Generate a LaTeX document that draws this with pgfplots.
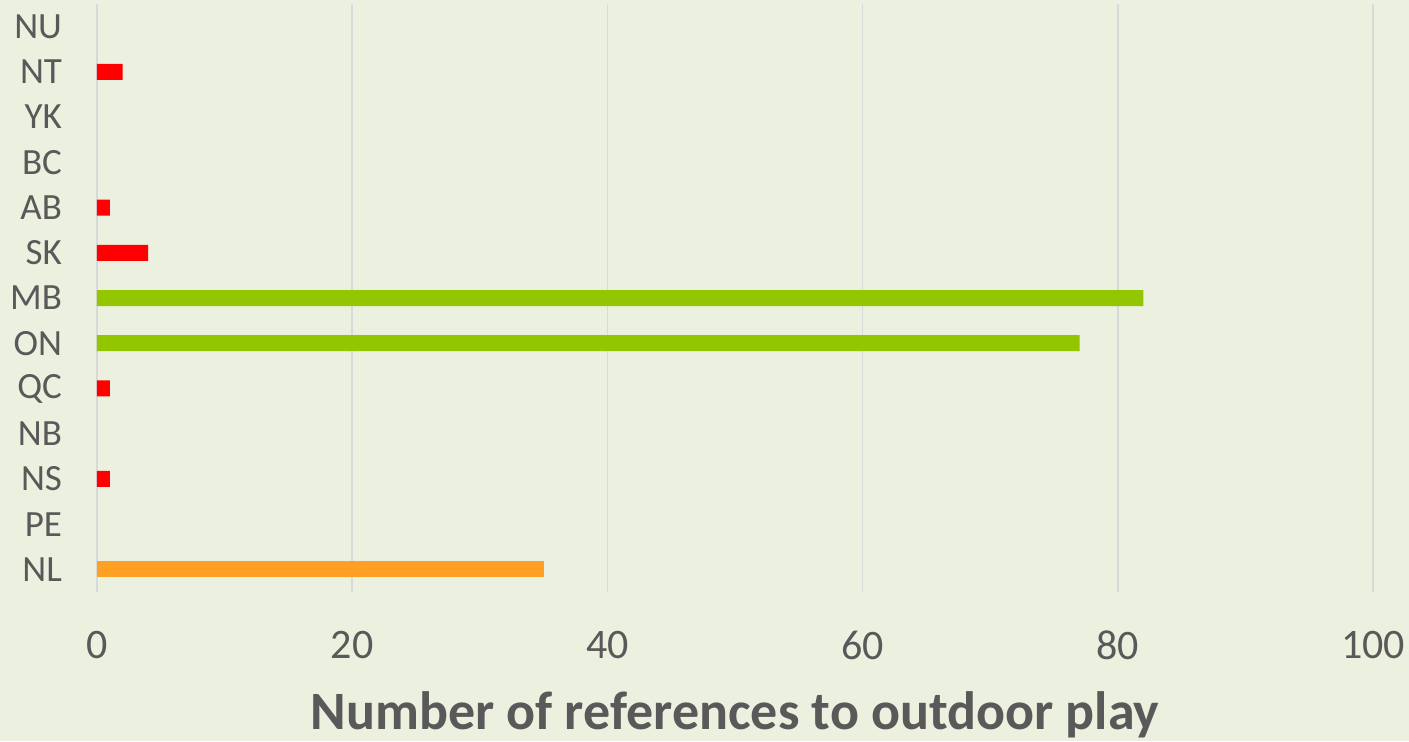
\documentclass[border=0pt]{standalone}
\usepackage{pgfplots}
\pgfplotsset{compat=1.18}
\usepackage{fontspec}
\setmainfont{Carlito}
\definecolor{bgpanel}{HTML}{EBF0DF}
\definecolor{gridgray}{HTML}{D9D9D9}
\definecolor{textgray}{HTML}{595959}
\definecolor{lowred}{HTML}{FF0000}
\definecolor{midorange}{HTML}{FFA024}
\definecolor{highgreen}{HTML}{92C600}
\begin{document}
\begin{tikzpicture}
\fill[bgpanel] (0,0) rectangle (704.5pt,370.5pt);
\begin{axis}[
  at={(48.5pt,74.5pt)}, anchor=south west,
  scale only axis,
  width=638pt, height=294pt,
  xbar, bar width=8pt, bar shift=0pt,
  xmin=0, xmax=100,
  ymin=-0.5, ymax=12.5,
  xtick={0,20,...,100},
  ytick={0,...,12},
  yticklabels={NL,PE,NS,NB,QC,ON,MB,SK,AB,BC,YK,NT,NU},
  xmajorgrids,
  grid style={gridgray, line width=0.75pt},
  axis line style={draw=none},
  major tick length=0pt,
  /pgf/number format/assume math mode=true,
  tick label style={text=textgray},
  xticklabel style={font=\fontsize{21}{24}\selectfont, yshift=-16pt},
  yticklabel style={font=\fontsize{18.5}{22}\selectfont, xshift=-14pt},
  xlabel={Number of references to outdoor play},
  xlabel style={font=\fontsize{27}{32}\selectfont\bfseries, text=textgray, yshift=-9pt},
]
\addplot[fill=lowred, draw=none] coordinates {(1,2) (1,4) (4,7) (1,8) (2,11)};
\addplot[fill=highgreen, draw=none] coordinates {(77,5) (82,6)};
\addplot[fill=midorange, draw=none] coordinates {(35,0)};
\end{axis}
\pgfresetboundingbox
\path (0,0) rectangle (704.5pt,370.5pt);
\end{tikzpicture}
\end{document}
